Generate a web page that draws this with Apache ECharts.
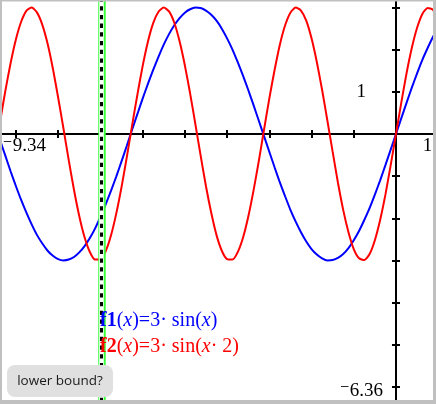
<!DOCTYPE html>
<html>
<head>
<meta charset="utf-8">
<script src="https://cdn.jsdelivr.net/npm/echarts@6/dist/echarts.min.js"></script>
<style>
html,body{margin:0;padding:0;background:#fff;}
#chart{width:436px;height:404px;}
</style>
</head>
<body>
<div id="chart"></div>
<script>
// ---- data ----
const xs = [-9.375,-9.25,-9.125,-9,-8.875,-8.75,-8.625,-8.5,-8.375,-8.25,-8.125,-8,
  -7.875,-7.75,-7.625,-7.5,-7.375,-7.25,-7.125,-7,-6.875,-6.75,-6.625,-6.5,
  -6.375,-6.25,-6.125,-6,-5.875,-5.75,-5.625,-5.5,-5.375,-5.25,-5.125,-5,
  -4.875,-4.75,-4.625,-4.5,-4.375,-4.25,-4.125,-4,-3.875,-3.75,-3.625,-3.5,
  -3.375,-3.25,-3.125,-3,-2.875,-2.75,-2.625,-2.5,-2.375,-2.25,-2.125,-2,
  -1.875,-1.75,-1.625,-1.5,-1.375,-1.25,-1.125,-1,-0.875,-0.75,-0.625,-0.5,
  -0.375,-0.25,-0.125,0,0.125,0.25,0.375,0.5,0.625,0.75,0.875,1,1.125];
const f1 = [-0.15,-0.52,-0.89,-1.24,-1.57,-1.87,-2.15,-2.40,-2.60,-2.77,-2.89,-2.97,
  -3.00,-2.98,-2.92,-2.81,-2.66,-2.47,-2.24,-1.97,-1.67,-1.35,-1.01,-0.65,
  -0.28,0.10,0.47,0.84,1.19,1.52,1.83,2.12,2.37,2.58,2.75,2.88,
  2.96,3.00,2.99,2.93,2.83,2.69,2.50,2.27,2.01,1.71,1.39,1.05,
  0.69,0.32,-0.05,-0.42,-0.79,-1.15,-1.48,-1.80,-2.08,-2.33,-2.55,-2.73,
  -2.86,-2.95,-3.00,-2.99,-2.94,-2.85,-2.71,-2.52,-2.30,-2.04,-1.76,-1.44,
  -1.10,-0.74,-0.37,0,0.37,0.74,1.10,1.44,1.76,2.04,2.30,2.52,2.71];
const f2 = [0.30,1.03,1.69,2.25,2.67,2.93,3.00,2.88,2.59,2.14,1.55,0.86,
  0.13,-0.62,-1.33,-1.95,-2.45,-2.80,-2.98,-2.97,-2.78,-2.41,-1.89,-1.26,
  -0.55,0.20,0.93,1.61,2.19,2.63,2.90,3.00,2.91,2.64,2.20,1.63,
  0.96,0.23,-0.52,-1.24,-1.87,-2.40,-2.77,-2.97,-2.98,-2.81,-2.47,-1.97,
  -1.35,-0.65,0.10,0.84,1.52,2.12,2.58,2.88,3.00,2.93,2.69,2.27,
  1.71,1.05,0.32,-0.42,-1.15,-1.80,-2.33,-2.73,-2.95,-2.99,-2.85,-2.52,
  -2.04,-1.44,-0.74,0,0.74,1.44,2.04,2.52,2.85,2.99,2.95,2.73,2.33];
const xRange = [-9.34, 1];
const yRange = [-6.36, 3.18];
const xTickValues = [-9,-8,-7,-6,-5,-4,-3,-2,-1];
const yTickValues = [3,2,1,-1,-2,-3,-4,-5,-6];
const xLabelValues = [-9.34, 1];
const yLabelValues = [1, -6.36];
const boundX = -6.97;
const buttonText = 'lower bound?';

// ---- chart ----
const serif = "'Liberation Serif','DejaVu Serif',serif";
const neg = v => (v < 0 ? '\u207B' + Math.abs(v) : String(v));
const chart = echarts.init(document.getElementById('chart'), null, {renderer: 'canvas'});

const tickStyle = {color: '#000', width: 2};
function xAxisDef(inside, main) {
  return {
    type: 'value', min: xRange[0], max: xRange[1], position: 'bottom',
    axisLine: {show: main, onZero: true, onZeroAxisIndex: 0, lineStyle: {color: '#000', width: 2}},
    axisTick: {show: true, customValues: xTickValues, inside: inside, length: 4, lineStyle: tickStyle},
    axisLabel: {show: false},
    splitLine: {show: false}
  };
}
function yAxisDef(inside, main) {
  return {
    type: 'value', min: yRange[0], max: yRange[1], position: 'left',
    axisLine: {show: main, onZero: true, onZeroAxisIndex: 0, lineStyle: {color: '#000', width: 2}},
    axisTick: {show: true, customValues: yTickValues, inside: inside, length: 4, lineStyle: tickStyle},
    axisLabel: {show: false},
    splitLine: {show: false}
  };
}

const staticGraphics = [
  {type: 'text', zlevel: 1, z: 200, x: 100, y: 321, style: {
    text: '{b|f1}{n|(}{i|x}{n|)=3· sin(}{i|x}{n|)}', verticalAlign: 'middle', align: 'left',
    rich: {
      b: {fontFamily: serif, fontSize: 20, fontWeight: 'bold', fill: '#0000ff'},
      n: {fontFamily: serif, fontSize: 20, fill: '#0000ff'},
      i: {fontFamily: serif, fontSize: 20, fontStyle: 'italic', fill: '#0000ff'}
    }}},
  {type: 'text', zlevel: 1, z: 200, x: 100, y: 347, style: {
    text: '{b|f2}{n|(}{i|x}{n|)=3· sin(}{i|x}{n|· 2)}', verticalAlign: 'middle', align: 'left',
    rich: {
      b: {fontFamily: serif, fontSize: 20, fontWeight: 'bold', fill: '#ff0000'},
      n: {fontFamily: serif, fontSize: 20, fill: '#ff0000'},
      i: {fontFamily: serif, fontSize: 20, fontStyle: 'italic', fill: '#ff0000'}
    }}},
  {type: 'rect', zlevel: 1, z: 210, shape: {x: 7, y: 365, width: 106, height: 32, r: 8}, style: {fill: '#e0e0e0'}},
  {type: 'text', zlevel: 1, z: 211, x: 60, y: 381, style: {text: buttonText, align: 'center', verticalAlign: 'middle',
    font: "13.5px 'Open Sans','Noto Sans',sans-serif", fill: '#1a1a1a'}},
  {type: 'rect', zlevel: 1, z: 300, shape: {x: 0, y: 0, width: 2, height: 404}, style: {fill: '#c0c0c0'}},
  {type: 'rect', zlevel: 1, z: 300, shape: {x: 0, y: 0, width: 436, height: 1.5}, style: {fill: '#c0c0c0'}},
  {type: 'rect', zlevel: 1, z: 300, shape: {x: 433, y: 0, width: 3, height: 404}, style: {fill: '#c0c0c0'}},
  {type: 'rect', zlevel: 1, z: 300, shape: {x: 0, y: 400, width: 436, height: 4}, style: {fill: '#c0c0c0'}}
];

const option = {
  animation: false,
  backgroundColor: '#ffffff',
  grid: {left: 1.6, top: 0, width: 436.6, height: 402, containLabel: false, outerBoundsMode: 'none'},
  xAxis: [xAxisDef(false, true), xAxisDef(true, false)],
  yAxis: [yAxisDef(false, true), yAxisDef(true, false)],
  series: [
    {
      name: 'f1', type: 'line', xAxisIndex: 0, yAxisIndex: 0,
      data: xs.map((x, i) => [x, f1[i]]),
      showSymbol: false, smooth: 0.2, clip: true, z: 3,
      lineStyle: {color: '#0000ff', width: 2}
    },
    {
      name: 'f2', type: 'line', xAxisIndex: 0, yAxisIndex: 0,
      data: xs.map((x, i) => [x, f2[i]]),
      showSymbol: false, smooth: 0.2, clip: true, z: 4,
      lineStyle: {color: '#ff0000', width: 2}
    },
    {
      name: 'bound', type: 'line', xAxisIndex: 0, yAxisIndex: 0, data: [], z: 10,
      markLine: {
        silent: true, symbol: ['none', 'none'], animation: false,
        label: {show: false},
        data: [
          {xAxis: boundX, lineStyle: {color: '#3cff3c', width: 7.5, type: 'solid'}},
          {xAxis: boundX, lineStyle: {color: '#ffffff', width: 4.5, type: 'solid'}},
          {xAxis: boundX, lineStyle: {color: '#000000', width: 3, type: [4.3, 4.4], cap: 'butt'}}
        ]
      }
    }
  ],
  graphic: staticGraphics
};
chart.setOption(option);

// axis end labels, positioned through the chart's own scales
const labelFont = "19px " + serif;
const origin = chart.convertToPixel({gridIndex: 0}, [0, 0]);
const labelGraphics = [];
xLabelValues.forEach((v, i) => {
  const p = chart.convertToPixel({gridIndex: 0}, [v, 0]);
  labelGraphics.push({type: 'text', zlevel: 1, z: 150, x: i === 0 ? p[0] + 1 : p[0] - 6, y: origin[1] + 3,
    style: {text: neg(v), font: labelFont, fill: '#000', align: i === 0 ? 'left' : 'right', verticalAlign: 'top'}});
});
yLabelValues.forEach((v, i) => {
  const p = chart.convertToPixel({gridIndex: 0}, [0, v]);
  labelGraphics.push({type: 'text', zlevel: 1, z: 150, x: i === 0 ? origin[0] - 30 : origin[0] - 13,
    y: i === 0 ? p[1] : p[1] - 1,
    style: {text: neg(v), font: labelFont, fill: '#000', align: 'right', verticalAlign: i === 0 ? 'middle' : 'bottom'}});
});
chart.setOption({graphic: staticGraphics.concat(labelGraphics)});
</script>
</body>
</html>
